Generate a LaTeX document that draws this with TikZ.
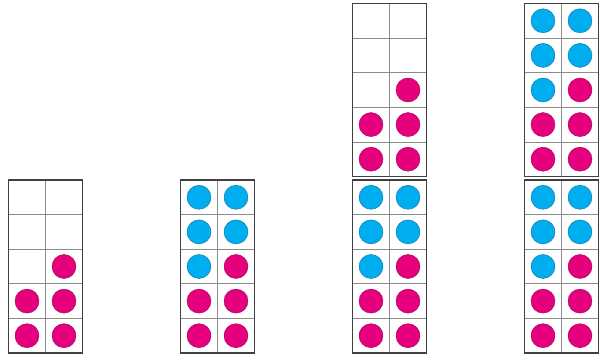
\documentclass[tikz,border=0pt]{standalone}
\usepackage{xcolor}
\definecolor{dotpink}{RGB}{230, 0, 126}
\definecolor{dotblue}{RGB}{0, 174, 239}
\usetikzlibrary{positioning}
\tikzset{
    framebox/.style={draw=black!75, line width=1.2pt},
    gridline/.style={draw=black!45, line width=0.7pt},
    pinkdot/.style={fill=dotpink, draw=dotpink!65!black, line width=0.4pt},
    bluedot/.style={fill=dotblue, draw=dotblue!65!black, line width=0.4pt},
}
% one ten-frame: left x, top y, list of column/row/style
\newcommand{\tenframe}[3]{%
    \foreach \c/\r/\s in #3
        \path[\s] (#1+18.5+37*\c, #2+17.3+34.6*\r) circle (12pt);
    \draw[gridline] (#1+37, #2) -- (#1+37, #2+173);
    \foreach \r in {1,...,4}
        \draw[gridline] (#1, #2+34.6*\r) -- (#1+74, #2+34.6*\r);
    \draw[framebox] (#1, #2) rectangle (#1+74, #2+173);
}
\def\fivepink{1/2/pinkdot, 0/3/pinkdot, 1/3/pinkdot, 0/4/pinkdot, 1/4/pinkdot}
\def\fivefive{0/0/bluedot, 1/0/bluedot, 0/1/bluedot, 1/1/bluedot, 0/2/bluedot,
    1/2/pinkdot, 0/3/pinkdot, 1/3/pinkdot, 0/4/pinkdot, 1/4/pinkdot}
\begin{document}
\begin{tikzpicture}[x=1pt, y=-1pt]
    \useasboundingbox (0, 0) rectangle (600, 355);

    % first column
    \tenframe{8.5}{180}{\fivepink}

    % second column
    \tenframe{180.5}{180}{\fivefive}

    % third column
    \tenframe{352.5}{3.5}{\fivepink}
    \tenframe{352.5}{180}{\fivefive}

    % fourth column
    \tenframe{524.5}{3.5}{\fivefive}
    \tenframe{524.5}{180}{\fivefive}
\end{tikzpicture}
\end{document}
